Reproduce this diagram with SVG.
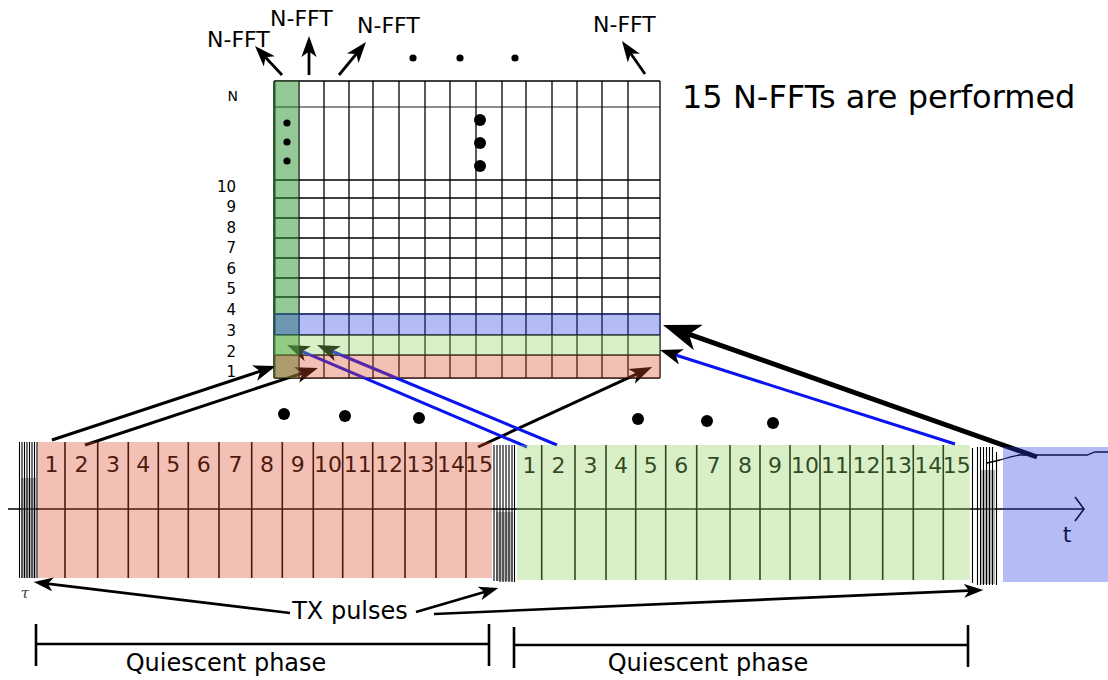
<svg xmlns="http://www.w3.org/2000/svg" width="1108" height="680" viewBox="0 0 1108 680">
  <defs>
    <style>
      text { font-family: "DejaVu Sans", "Liberation Sans", sans-serif; fill: #000; }
      .lbl { font-size: 22px; }
      .row { font-size: 15px; text-anchor: end; }
      .num { font-size: 22px; text-anchor: middle; }
      .big { font-size: 32px; }
      .cap { font-size: 24px; text-anchor: middle; }
      .gl { stroke: #000; stroke-width: 1.3; fill: none; }
      .div { stroke: #000; stroke-width: 1.6; }
      .arw { stroke: #000; fill: none; marker-end: url(#head); }
      .blu { stroke: #0a14f0; fill: none; stroke-width: 3; marker-end: url(#head); }
      .pl { stroke: #000; stroke-width: 1.1; }
      .brk { stroke: #000; stroke-width: 2.6; fill: none; }
      .red { fill: #da4b29; fill-opacity: 0.35; }
      .grn { fill: #92d162; fill-opacity: 0.35; }
      .blue { fill: #2640e2; fill-opacity: 0.35; }
      .col { fill: #2b9130; fill-opacity: 0.5; }
    </style>
    <marker id="head" viewBox="0 0 7.5 5.4" markerWidth="7.5" markerHeight="5.4" refX="4" refY="2.7" orient="auto">
      <path d="M7.5,2.7 L0,0 L2,2.7 L0,5.4 Z" fill="#000"/>
    </marker>
  </defs>

  <rect width="1108" height="680" fill="#fff"/>

  <!-- FFT matrix: cell lines, row numbers and ellipsis dots -->
  <g id="matrix">
    <path class="gl" d="M274,81 H660 M274,180 H660 M274,198 H660 M274,218 H660 M274,238 H660 M274,258 H660 M274,278 H660 M274,297 H660 M274,314 H660 M274,335 H660 M274,355 H660 M274,378 H660"/>
    <path d="M274,107 H660" stroke="#666" stroke-width="1.3"/>
    <path class="gl" d="M274,81 V378 M299,81 V378 M324,81 V378 M349,81 V378 M373,81 V378 M399,81 V378 M425,81 V378 M450,81 V378 M476,81 V378 M502,81 V378 M526,81 V378 M552,81 V378 M577,81 V378 M602,81 V378 M628,81 V378 M660,81 V378"/>
    <circle cx="480" cy="120" r="6"/>
    <circle cx="480" cy="143" r="6"/>
    <circle cx="480" cy="166" r="6"/>
    <text class="row" x="238" y="101" style="font-size:14px">N</text>
    <text class="row" x="236" y="192">10</text>
    <text class="row" x="236" y="212">9</text>
    <text class="row" x="236" y="233">8</text>
    <text class="row" x="236" y="253">7</text>
    <text class="row" x="236" y="274">6</text>
    <text class="row" x="236" y="294">5</text>
    <text class="row" x="236" y="315">4</text>
    <text class="row" x="236" y="336">3</text>
    <text class="row" x="236" y="357">2</text>
    <text class="row" x="236" y="377">1</text>
  </g>

  <!-- FFT labels above the matrix -->
  <g id="fft-labels">
    <text class="lbl" x="207" y="47">N-FFT</text>
    <text class="lbl" x="270" y="26">N-FFT</text>
    <text class="lbl" x="357" y="33">N-FFT</text>
    <text class="lbl" x="593" y="32">N-FFT</text>
    <circle cx="413" cy="58" r="3.6"/>
    <circle cx="460" cy="58" r="3.6"/>
    <circle cx="515" cy="58" r="3.6"/>
    <text class="big" x="682" y="108">15 N-FFTs are performed</text>
  </g>

  <!-- time axis, cell dividers and sample numbers -->
  <g id="time-axis">
    <path d="M8,509 H1084" stroke="#000" stroke-width="1.6"/>
    <path d="M1075,497 L1084,509 L1075,521" stroke="#000" stroke-width="1.6" fill="none"/>
    <text x="1067" y="542" style="font-size:22px" text-anchor="middle">t</text>
    <path d="M987,463 L1000,460 Q1012,456 1020,455 L1087,455 L1095,452 L1108,452" stroke="#000" stroke-width="1.3" fill="none"/>
  </g>

  <g id="frame-1">
    <path class="div" d="M65,442 V578 M97.7,442 V578 M128.3,442 V578 M158.3,442 V578 M188.3,442 V578 M219,442 V578 M251.7,442 V578 M282.3,442 V578 M313.3,442 V578 M342.7,442 V578 M372.7,442 V578 M405,442 V578 M436,442 V578 M466,442 V578"/>
    <text class="num" x="51.5" y="472">1</text>
    <text class="num" x="81.4" y="472">2</text>
    <text class="num" x="113" y="472">3</text>
    <text class="num" x="143.3" y="472">4</text>
    <text class="num" x="173.3" y="472">5</text>
    <text class="num" x="203.7" y="472">6</text>
    <text class="num" x="235.4" y="472">7</text>
    <text class="num" x="267" y="472">8</text>
    <text class="num" x="297.8" y="472">9</text>
    <text class="num" x="328" y="472">10</text>
    <text class="num" x="357.7" y="472">11</text>
    <text class="num" x="388.9" y="472">12</text>
    <text class="num" x="420.5" y="472">13</text>
    <text class="num" x="451" y="472">14</text>
    <text class="num" x="479" y="472">15</text>
  </g>

  <g id="frame-2">
    <path class="div" d="M541.7,445 V580 M575,445 V580 M606,445 V580 M635.7,445 V580 M665.7,445 V580 M696.7,445 V580 M730,445 V580 M760,445 V580 M790,445 V580 M820,445 V580 M850,445 V580 M882.7,445 V580 M913.3,445 V580 M943.3,445 V580"/>
    <text class="num" x="529.4" y="473">1</text>
    <text class="num" x="558.4" y="473">2</text>
    <text class="num" x="590.5" y="473">3</text>
    <text class="num" x="620.9" y="473">4</text>
    <text class="num" x="650.7" y="473">5</text>
    <text class="num" x="681.2" y="473">6</text>
    <text class="num" x="713.4" y="473">7</text>
    <text class="num" x="745" y="473">8</text>
    <text class="num" x="775" y="473">9</text>
    <text class="num" x="805" y="473">10</text>
    <text class="num" x="835" y="473">11</text>
    <text class="num" x="866.4" y="473">12</text>
    <text class="num" x="898" y="473">13</text>
    <text class="num" x="928.3" y="473">14</text>
    <text class="num" x="956.7" y="473">15</text>
  </g>

  <g id="gap-dots">
    <circle cx="284" cy="414" r="6"/>
    <circle cx="345" cy="416" r="6"/>
    <circle cx="419" cy="418" r="6"/>
    <circle cx="638" cy="419" r="6"/>
    <circle cx="707" cy="421" r="6"/>
    <circle cx="773" cy="423" r="6"/>
  </g>

  <!-- connectors -->
  <g id="connectors">
    <path class="arw" stroke-width="2.8" d="M282,75 L261.7,53.2"/>
    <path class="arw" stroke-width="2.8" d="M309,75 L309,45.8"/>
    <path class="arw" stroke-width="2.8" d="M339,75 L359.8,49.6"/>
    <path class="arw" stroke-width="2.8" d="M645,74 L627.6,49"/>
    <path class="arw" stroke-width="3" d="M52,440 L266,369.3"/>
    <path class="arw" stroke-width="3" d="M85,445 L308,371.3"/>
    <path class="arw" stroke-width="3" d="M478,447 L642.5,371.4"/>
    <path class="blu" d="M527,447 L296.7,349.1"/>
    <path class="blu" d="M557,445 L326.7,349"/>
    <path class="blu" d="M955,444 L670,353.2"/>
    <path class="arw" stroke-width="5" d="M1037,457 L679.5,330.8"/>
    <path class="arw" stroke-width="2.6" d="M290,613 L42.7,583.1"/>
    <path class="arw" stroke-width="2.6" d="M416,612 L489.6,590.5"/>
    <path class="arw" stroke-width="2.6" d="M434,614 L974.3,590.4"/>
  </g>

  <!-- translucent highlights of the matrix -->
  <g id="matrix-highlights">
    <rect class="col" x="274" y="81" width="25" height="297"/>
    <path d="M274.5,81 V378" stroke="#1f5a22" stroke-width="2"/>
    <rect class="red" x="274" y="355" width="386" height="23"/>
    <rect class="grn" x="274" y="335" width="386" height="20"/>
    <rect class="blue" x="274" y="313" width="387" height="22"/>
    <circle cx="287" cy="123" r="3.6"/>
    <circle cx="287" cy="142" r="3.6"/>
    <circle cx="287" cy="161" r="3.6"/>
  </g>

  <!-- translucent frames on the time axis -->
  <g id="frame-fills">
    <rect class="red" x="38" y="442" width="454" height="136"/>
    <rect class="grn" x="517" y="445" width="453" height="135"/>
    <rect class="blue" x="1003" y="447" width="105" height="135"/>
  </g>

  <!-- transmit pulses -->
  <g id="pulse-1">
    <rect x="21" y="478" width="15" height="100" fill="#777" fill-opacity="0.5"/>
    <path class="pl" d="M19.5,442 V578 M22,442 V578 M24.5,442 V578 M27,442 V578 M29.5,442 V578 M32,442 V578 M34.5,442 V578 M37,442 V578"/>
  </g>
  <g id="pulse-2">
    <rect x="496" y="512" width="17" height="69" fill="#777" fill-opacity="0.5"/>
    <path class="pl" d="M494,445 V581 M497,445 V581 M500,445 V582 M503,445 V582 M506,445 V582 M509,445 V582 M512,445 V582 M514.5,445 V582"/>
  </g>
  <g id="pulse-3">
    <rect x="980" y="470" width="15" height="114" fill="#777" fill-opacity="0.5"/>
    <path class="pl" d="M972.5,448 V583 M977.5,447 V585 M980.5,447 V585 M983.5,447 V585 M986.5,447 V585 M989.5,447 V585 M992.5,447 V585 M996.5,452 V585"/>
  </g>

  <text x="25" y="598" style="font-family:'DejaVu Serif',serif;font-style:italic;font-size:15px;fill:#444" text-anchor="middle">τ</text>
  <text class="cap" x="350" y="619">TX pulses</text>

  <!-- phase brackets -->
  <g id="phase-1">
    <path class="brk" d="M36,624 V666 M36,644 H489 M489,624 V666"/>
    <text class="cap" x="226" y="671">Quiescent phase</text>
  </g>
  <g id="phase-2">
    <path class="brk" d="M514,627 V668 M514,645 H968 M968,625 V667"/>
    <text class="cap" x="708" y="671">Quiescent phase</text>
  </g>
</svg>
